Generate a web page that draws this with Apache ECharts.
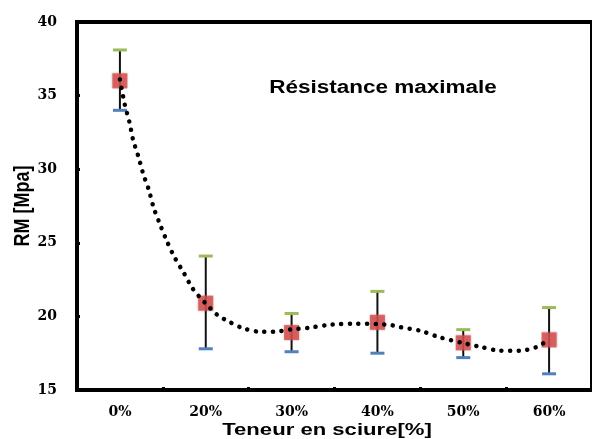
<!DOCTYPE html>
<html>
<head>
<meta charset="utf-8">
<script src="https://cdn.jsdelivr.net/npm/echarts@6/dist/echarts.min.js"></script>
<style>
  html, body { margin: 0; padding: 0; background: #fff; }
  #chart { width: 592px; height: 439px; }
</style>
</head>
<body>
<div id="chart"></div>
<script>
// Sawdust content categories and maximum strength (MPa)
var categories = ['0%', '20%', '30%', '40%', '50%', '60%'];
var meanRM  = [36.0, 20.9, 18.9, 19.6, 18.2, 18.4];
var upperRM = [38.1, 24.1, 20.2, 21.7, 19.1, 20.6];
var lowerRM = [34.0, 17.8, 17.6, 17.5, 17.2, 16.1];

// Smoothed trend curve, sampled along the category index
var trendX = [0, 0.057, 0.111, 0.152, 0.214, 0.271, 0.335, 0.392, 0.465, 0.545, 0.637, 0.743, 0.849, 0.991, 1.135, 1.226, 1.429, 1.634, 1.794, 2.0, 2.206, 2.423, 2.549, 2.743, 3.006, 3.166, 3.257, 3.509, 3.714, 4.0, 4.206, 4.423, 4.651, 4.857, 4.937, 5.0];
var trendY = [36.1, 34.38, 33.2, 32.03, 30.88, 29.69, 28.63, 27.41, 26.28, 25.14, 24.01, 22.97, 21.88, 20.93, 20.1, 19.78, 19.21, 18.96, 18.96, 19.12, 19.23, 19.42, 19.48, 19.5, 19.48, 19.4, 19.28, 19.01, 18.6, 18.19, 17.92, 17.68, 17.66, 17.92, 18.19, 18.4];

var yTicks = { min: 15, max: 40, interval: 5 };

var chart = echarts.init(document.getElementById('chart'), null, { renderer: 'canvas' });

var errData = categories.map(function (c, i) { return [i, lowerRM[i], upperRM[i]]; });
var trendData = trendX.map(function (x, i) { return [x, trendY[i]]; });

var serifBold = { fontFamily: 'DejaVu Serif', fontWeight: 'bold', color: '#000' };

chart.setOption({
  animation: false,
  backgroundColor: '#fff',
  grid: {
    left: 77, top: 22, width: 525, height: 368,
    show: true, borderColor: '#000', borderWidth: 4, backgroundColor: 'transparent'
  },
  xAxis: [{
    type: 'category',
    data: categories,
    boundaryGap: true,
    axisLine: { show: true, lineStyle: { color: '#000', width: 3 } },
    axisTick: { show: true, inside: true, length: 3, lineStyle: { color: '#000', width: 3 } },
    axisLabel: Object.assign({ fontSize: 14, margin: 15 }, serifBold),
    splitLine: { show: false }
  }, {
    type: 'value',
    min: -0.5, max: 5.5,
    show: false
  }],
  yAxis: {
    type: 'value',
    min: yTicks.min, max: yTicks.max, interval: yTicks.interval,
    axisLine: { show: true, onZero: false, lineStyle: { color: '#000', width: 4 } },
    axisTick: { show: true, inside: true, length: 3, lineStyle: { color: '#000', width: 3 } },
    axisLabel: Object.assign({ fontSize: 14, margin: 20 }, serifBold),
    splitLine: { show: false }
  },
  graphic: [
    {
      type: 'text', x: 383, y: 88, scaleX: 1.25,
      style: { text: 'Résistance maximale', font: 'bold 18px "Liberation Sans", Arial', fill: '#000', align: 'center', verticalAlign: 'middle' }
    },
    {
      type: 'text', x: 327, y: 430, scaleX: 1.3,
      style: { text: 'Teneur en sciure[%]', font: 'bold 17px "Liberation Sans", Arial', fill: '#000', align: 'center', verticalAlign: 'middle' }
    },
    {
      type: 'text', x: 23, y: 206, rotation: Math.PI / 2, scaleY: 1.2,
      style: { text: 'RM [Mpa]', font: 'bold 18px "Liberation Sans", Arial', fill: '#000', align: 'center', verticalAlign: 'middle' }
    }
  ],
  series: [
    {
      name: 'erreur',
      type: 'custom',
      xAxisIndex: 0,
      data: errData,
      z: 2,
      renderItem: function (params, api) {
        var x = api.value(0);
        var lo = api.coord([x, api.value(1)]);
        var hi = api.coord([x, api.value(2)]);
        var hw = 7;
        return {
          type: 'group',
          children: [
            { type: 'line', shape: { x1: lo[0], y1: lo[1], x2: hi[0], y2: hi[1] }, style: { stroke: '#111', lineWidth: 2 } },
            { type: 'line', shape: { x1: hi[0] - hw, y1: hi[1], x2: hi[0] + hw, y2: hi[1] }, style: { stroke: '#9bbb59', lineWidth: 3 } },
            { type: 'line', shape: { x1: lo[0] - hw, y1: lo[1], x2: lo[0] + hw, y2: lo[1] }, style: { stroke: '#4f81bd', lineWidth: 3 } }
          ]
        };
      }
    },
    {
      name: 'RM',
      type: 'scatter',
      xAxisIndex: 0,
      data: meanRM,
      symbol: 'rect',
      symbolSize: 15,
      itemStyle: { color: '#cf4c4b', shadowBlur: 2, shadowColor: 'rgba(200,80,79,0.6)' },
      z: 3
    },
    {
      name: 'tendance',
      type: 'line',
      xAxisIndex: 1,
      data: trendData,
      smooth: 0.3,
      showSymbol: false,
      lineStyle: { color: '#000', width: 4.5, type: [0.1, 8.5], cap: 'round' },
      z: 4
    }
  ]
});
</script>
</body>
</html>
